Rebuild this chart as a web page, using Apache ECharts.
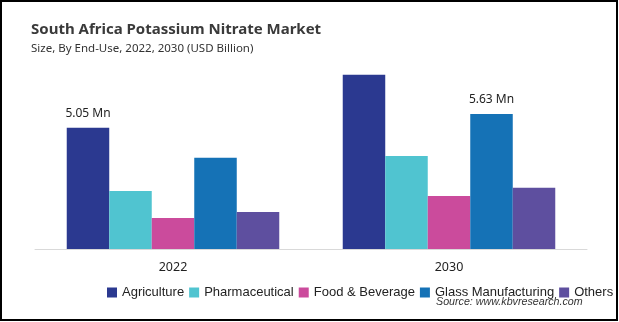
<!DOCTYPE html>
<html>
<head>
<meta charset="utf-8">
<script src="https://cdn.jsdelivr.net/npm/echarts@6/dist/echarts.min.js"></script>
<style>
html,body{margin:0;padding:0;background:#fff;}
#chart{width:619px;height:322px;}
</style>
</head>
<body>
<div id="chart"></div>
<script>
var categories = ['2022', '2030'];
var seriesNames = ['Agriculture', 'Pharmaceutical', 'Food & Beverage', 'Glass Manufacturing', 'Others'];
var agriculture = [5.05, 7.26];
var pharmaceutical = [2.42, 3.88];
var foodBeverage = [1.29, 2.21];
var glassManufacturing = [3.80, 5.63];
var others = [1.54, 2.55];
var labelTexts = { 'Agriculture': [0, '5.05 Mn'], 'Glass Manufacturing': [1, '5.63 Mn'] };
var colors = ['#2B3990', '#50C4D0', '#CB4B9C', '#1572B6', '#5E4F9F'];
var seriesData = [agriculture, pharmaceutical, foodBeverage, glassManufacturing, others];

var chart = echarts.init(document.getElementById('chart'), null, {renderer: 'canvas'});

var series = seriesNames.map(function (name, i) {
  var lab = labelTexts[name];
  return {
    name: name,
    type: 'bar',
    barGap: '0%',
    barCategoryGap: '23%',
    itemStyle: { color: colors[i] },
    data: seriesData[i].map(function (v, j) {
      var d = { value: v };
      if (lab && lab[0] === j) {
        d.label = {
          show: true, position: 'top', distance: 8,
          formatter: lab[1],
          fontFamily: 'Noto Sans', fontSize: 12, color: '#222'
        };
      }
      return d;
    })
  };
});

chart.setOption({
  animation: false,
  title: {
    text: 'South Africa Potassium Nitrate Market',
    subtext: 'Size, By End-Use, 2022, 2030 (USD Billion)',
    left: 26, top: 17, itemGap: 6,
    textStyle: { fontFamily: 'Noto Sans', fontWeight: 'bold', fontSize: 15, color: '#3a3a3a' },
    subtextStyle: { fontFamily: 'Noto Sans', fontSize: 11.5, color: '#333' }
  },
  legend: {
    data: seriesNames,
    left: 102, top: 281, width: 900,
    icon: 'rect', itemWidth: 10, itemHeight: 10, itemGap: 5,
    textStyle: { fontFamily: 'Liberation Sans', fontSize: 13, color: '#222' }
  },
  grid: { left: 35, right: 32, top: 57, bottom: 73 },
  xAxis: {
    type: 'category', data: categories,
    axisLine: { lineStyle: { color: '#d9d9d9', width: 1 } },
    axisTick: { show: false },
    axisLabel: { fontFamily: 'Noto Sans', fontSize: 12.5, color: '#222', margin: 12 }
  },
  yAxis: { type: 'value', min: 0, max: 8, show: false, splitLine: { show: false } },
  series: series,
  graphic: [
    { type: 'text', left: 436, top: 297,
      style: { text: 'Source: www.kbvresearch.com', font: 'italic 10.7px "Liberation Sans"', fill: '#333' } },
    { type: 'rect', shape: { x: 1, y: 1, width: 616, height: 319 },
      style: { fill: 'none', stroke: '#000', lineWidth: 2 }, z: 100 }
  ]
});
</script>
</body>
</html>
